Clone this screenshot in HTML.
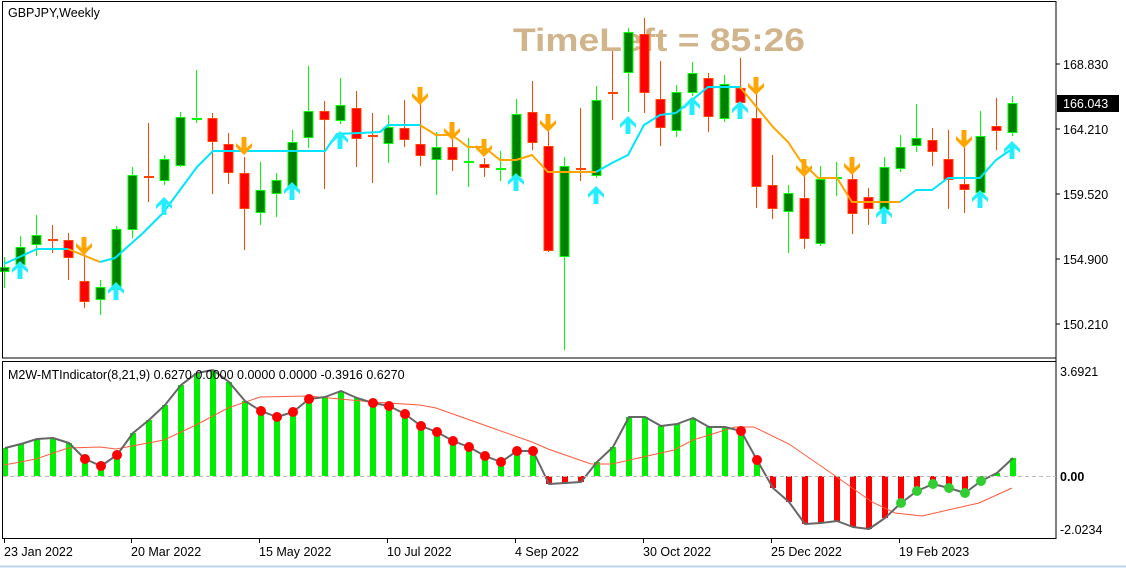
<!DOCTYPE html>
<html><head><meta charset="utf-8"><style>
html,body{margin:0;padding:0;background:#fff;}
svg{display:block;font-family:"Liberation Sans",Tahoma,sans-serif;}
</style></head><body>
<svg id="s" width="1126" height="568" viewBox="0 0 1126 568" xmlns="http://www.w3.org/2000/svg">
<rect width="1126" height="568" fill="#fff"/>
<text x="513" y="51" font-size="32" font-weight="bold" fill="#d2b48c" textLength="292" lengthAdjust="spacingAndGlyphs">TimeLeft = 85:26</text>
<g id="main"></g>
<g id="sub"></g>
<!-- borders -->
<rect x="2.5" y="1.5" width="1053.5" height="356.5" fill="none" stroke="#000" stroke-width="1"/>
<rect x="2.5" y="361.5" width="1053.5" height="177" fill="none" stroke="#000" stroke-width="1"/>
<line x1="1056" y1="1" x2="1056" y2="539" stroke="#000"/>
<line x1="0" y1="566.5" x2="1126" y2="566.5" stroke="#bcd4ec" stroke-width="2"/>
<text x="8" y="17" font-size="12.5" fill="#000">GBPJPY,Weekly</text>
<text x="8" y="379" font-size="12.5" fill="#000">M2W-MTIndicator(8,21,9) 0.6270 0.0000 0.0000 0.0000 -0.3916 0.6270</text>
<g font-size="12.5" fill="#000">
<line x1="1056" y1="64" x2="1060" y2="64" stroke="#000"/><text x="1063" y="69">168.830</text>
<line x1="1056" y1="129" x2="1060" y2="129" stroke="#000"/><text x="1063" y="134">164.210</text>
<line x1="1056" y1="194" x2="1060" y2="194" stroke="#000"/><text x="1063" y="199">159.520</text>
<line x1="1056" y1="259" x2="1060" y2="259" stroke="#000"/><text x="1063" y="264">154.900</text>
<line x1="1056" y1="324" x2="1060" y2="324" stroke="#000"/><text x="1063" y="329">150.210</text>
<rect x="1057" y="95" width="62" height="17" fill="#000"/><text x="1063" y="108" fill="#fff">166.043</text>
<text x="1060" y="376">3.6921</text>
<text x="1060" y="481" font-weight="bold">0.00</text>
<text x="1060" y="534">-2.0234</text>
</g>
<line x1="3" y1="476.5" x2="1056" y2="476.5" stroke="#bbb" stroke-dasharray="4,3"/>
<g font-size="12.5" fill="#000" id="xl">
<text x="4" y="556">23 Jan 2022</text>
<text x="131" y="556">20 Mar 2022</text>
<text x="259" y="556">15 May 2022</text>
<text x="387" y="556">10 Jul 2022</text>
<text x="515" y="556">4 Sep 2022</text>
<text x="643" y="556">30 Oct 2022</text>
<text x="771" y="556">25 Dec 2022</text>
<text x="899" y="556">19 Feb 2023</text>
</g>
</svg>
<script>
var NS="http://www.w3.org/2000/svg";
function el(p,t,a){var e=document.createElementNS(NS,t);for(var k in a)e.setAttribute(k,a[k]);p.appendChild(e);return e;}
var s=document.getElementById('s');
[4,131,259,387,515,643,771,899].forEach(function(x){el(s,'line',{x1:x+0.5,y1:539,x2:x+0.5,y2:543,stroke:'#000'});});
var m=document.getElementById('main');
var C=[[4,'g',267,272,257,288],[20,'g',247,265,236,268],[36,'g',235,245,215,256],[52,'r',239,241,225,253],[68,'r',240,258,233,280],[84,'r',281,302,253,308],[100,'g',287,300,280,315],[116,'g',229,290,226,292],[132,'g',175,230,167,238],[148,'r',176,178,123,202],[164,'g',159,181,155,185],[180,'g',117,166,112,167],[196,'g',118,120,70,123],[212,'r',118,142,113,194],[228,'r',144,173,133,184],[244,'r',173,209,157,250],[260,'g',190,213,162,225],[276,'g',180,194,173,217],[292,'g',142,187,130,190],[308,'g',111,138,66,148],[324,'r',111,120,101,189],[340,'g',105,121,78,124],[356,'r',108,139,91,167],[372,'r',135,137,113,183],[388,'g',127,144,115,163],[404,'r',128,140,100,147],[420,'r',144,156,90,166],[436,'g',147,160,132,195],[452,'r',147,160,123,171],[468,'g',161,163,138,187],[484,'r',164,168,158,177],[500,'g',168,170,151,181],[516,'g',114,177,99,180],[532,'r',112,143,81,150],[548,'r',146,251,117,252],[564,'g',166,257,157,350],[580,'r',168,170,108,181],[596,'g',100,176,86,178],[612,'r',92,94,51,120],[628,'g',32,73,28,112],[644,'r',34,93,18,113],[660,'r',99,128,61,146],[676,'g',92,131,85,137],[692,'g',73,93,62,96],[708,'r',78,117,73,132],[724,'g',84,119,75,122],[740,'r',88,103,58,110],[756,'r',118,187,87,208],[772,'r',185,209,155,219],[788,'g',193,212,185,253],[804,'r',198,239,163,249],[820,'g',179,244,166,246],[836,'g',177,180,162,196],[852,'r',179,214,157,234],[868,'r',197,209,188,225],[884,'g',167,210,157,212],[900,'g',147,169,135,172],[916,'g',138,146,104,152],[932,'r',140,152,128,166],[948,'r',159,180,130,209],[964,'r',184,190,130,213],[980,'g',136,193,111,196],[996,'r',126,131,98,150],[1012,'g',103,133,96,136]];
C.forEach(function(c){var x=c[0],g=c[1]=='g',ln=g?'#00ff00':'#ff4500',fl=g?'#008000':'#ff0000';
el(m,'line',{x1:x+0.5,y1:c[4],x2:x+0.5,y2:c[5],stroke:ln,'stroke-width':1});
var h=c[3]-c[2];
if(h<=3){el(m,'rect',{x:x-4,y:c[2],width:10,height:2,fill:ln});}
else el(m,'rect',{x:x-4,y:c[2]+0.5,width:9,height:h-1,fill:fl,stroke:ln,'stroke-width':1});});
function pl(pts,col){el(m,'polyline',{points:pts,fill:'none',stroke:col,'stroke-width':2,'stroke-linejoin':'round'});}
pl('4,264 37,249 68,249','#00e5ff');
pl('68,249 100,262','#ffa500');
pl('100,262 115,258 143,233 163,213 197,167 213,151 325,151 337,134 380,132 388,125 420,125','#00e5ff');
pl('420,125 436,135 452,135 468,147 484,147 500,160 516,160 532,155 548,172 596,172','#ffa500');
pl('596,172 612,163 628,155 644,125 660,115 676,113 692,100 708,87 740,87','#00e5ff');
pl('740,87 773,127 788,142 800,160 818,178 837,178 852,202 900,202','#ffa500');
pl('900,202 916,190 932,190 948,178 980,178 996,160 1012,149','#00e5ff');
function up(x,y){el(m,'polygon',{points:[x,y,x+8,y+8,x+8,y+12,x+2.5,y+7,x+2.5,y+18,x-2.5,y+18,x-2.5,y+7,x-8,y+12,x-8,y+8].join(','),fill:'#22eeff'});}
function dn(x,y){el(m,'polygon',{points:[x,y,x+8,y-8,x+8,y-12,x+2.5,y-7,x+2.5,y-18,x-2.5,y-18,x-2.5,y-7,x-8,y-12,x-8,y-8].join(','),fill:'#ffa500'});}
[[20,261],[116,282],[164,197],[292,182],[340,131],[516,173],[596,186],[628,116],[692,97],[740,101],[884,206],[980,190],[1012,141]].forEach(function(a){up(a[0],a[1]);});
[[84,255],[244,155],[420,105],[452,140],[484,157],[548,132],[756,95],[804,177],[852,175],[964,148]].forEach(function(a){dn(a[0],a[1]);});
var sb=document.getElementById('sub');
var V=[448,444,439,438,443,459,466,455,433,420,405,385,373,370,382,401,411,417,412,399,397,391,398,403,406,414,426,432,441,447,456,462,451,451,484,483,482,462,447,417,417,426,424,418,427,427,431,460,488,502,524,523,521,527,529,518,503,491,484,488,493,481,473,458];
var Z=476;
C.forEach(function(c,i){var v=V[i],x=c[0];var neg=v>Z;
el(sb,'rect',{x:x-2,y:Math.min(v,Z),width:6,height:Math.abs(v-Z),fill:neg?'#ff0000':'#00ee00'});});
el(sb,'polyline',{points:'4,465 36,459 68,448 100,447 116,449 164,440 196,425 228,408 260,397 308,396 372,402 420,405 436,408 484,425 532,442 548,449 591,464 612,464 674,450 693,440 735,427 754,427 789,444 834,475 872,502 895,513 922,516 948,510 979,503 1012,488',fill:'none',stroke:'#ff5a3c','stroke-width':1});
var pts=C.map(function(c,i){return (c[0]+1)+','+V[i];}).join(' ');
el(sb,'polyline',{points:pts,fill:'none',stroke:'#666','stroke-width':2,'stroke-linejoin':'round'});
var red=[6,7,8,17,18,19,20,24,25,26,27,28,29,30,31,32,33,34,47,48],grn=[57,58,59,60,61,62];
red.forEach(function(n){el(sb,'circle',{cx:C[n-1][0]+1,cy:V[n-1],r:5,fill:'#ff0000'});});
grn.forEach(function(n){el(sb,'circle',{cx:C[n-1][0]+1,cy:V[n-1],r:5,fill:'#32cd32'});});
</script>
</body></html>
